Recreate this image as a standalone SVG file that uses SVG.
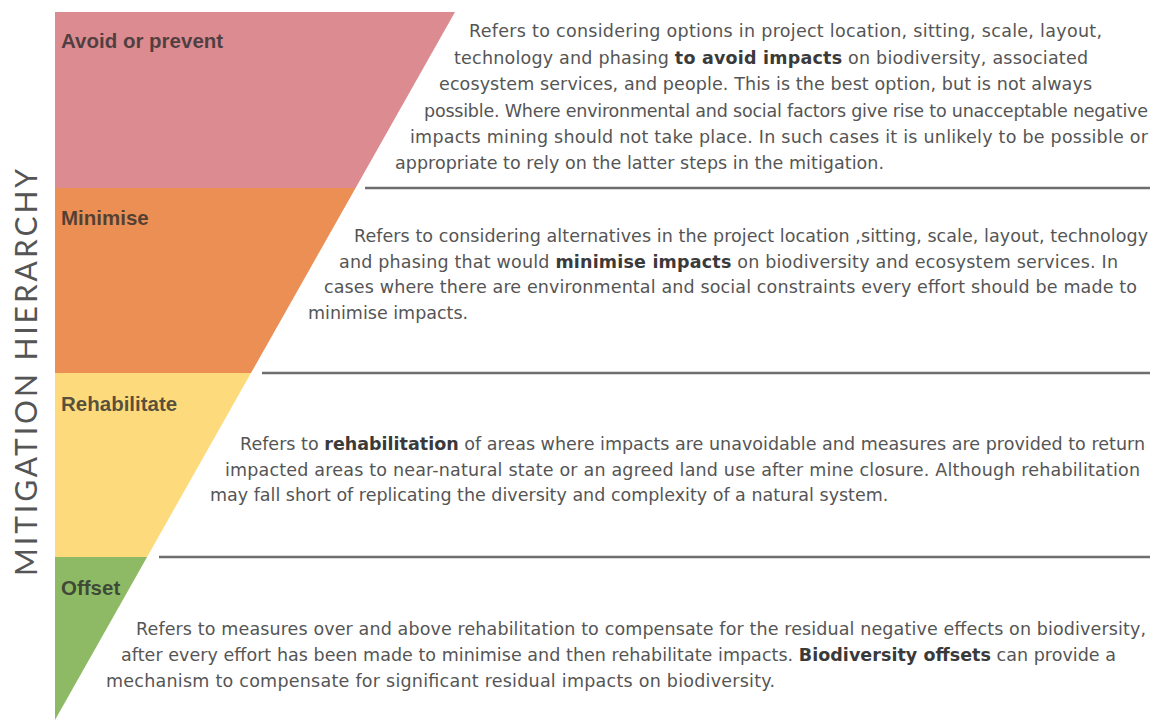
<svg xmlns="http://www.w3.org/2000/svg" width="1156" height="723" viewBox="0 0 1156 723">
<style>
.body{font-family:"DejaVu Sans","Liberation Sans",sans-serif;font-size:17.5px;fill:#555555;}
.b{font-weight:bold;fill:#3a3a3a;}
.lab{font-family:"Liberation Sans",Arial,sans-serif;font-weight:bold;font-size:20.5px;fill:#2a2a2a;fill-opacity:0.78;}
.sep{stroke:#6e6e6e;stroke-width:2.5;fill:none;}
.title{font-family:Lato,"Liberation Sans",sans-serif;font-weight:400;font-size:30px;fill:#555555;}
</style>
<rect width="1156" height="723" fill="#ffffff"/>
<text class="title" transform="translate(37,576) rotate(-90)" textLength="407" lengthAdjust="spacing">MITIGATION HIERARCHY</text>

<g id="avoid">
<polygon points="55,12 455,12 355.6,188 55,188" fill="#DC8B90"/>
<text class="lab" x="61" y="48">Avoid or prevent</text>
<text class="body" x="469" y="37" textLength="633" lengthAdjust="spacing">Refers to considering options in project location, sitting, scale, layout,</text>
<text class="body" x="454" y="63.5" textLength="634" lengthAdjust="spacing">technology and phasing <tspan class="b">to avoid impacts</tspan> on biodiversity, associated</text>
<text class="body" x="439" y="90" textLength="653" lengthAdjust="spacing">ecosystem services, and people. This is the best option, but is not always</text>
<text class="body" x="424" y="116.5" textLength="724" lengthAdjust="spacing">possible. Where environmental and social factors give rise to unacceptable negative</text>
<text class="body" x="410" y="143" textLength="738" lengthAdjust="spacing">impacts mining should not take place. In such cases it is unlikely to be possible or</text>
<text class="body" x="395" y="169" textLength="489" lengthAdjust="spacing">appropriate to rely on the latter steps in the mitigation.</text>
</g>

<g id="minimise">
<polygon points="55,188 355.6,188 251,373 55,373" fill="#EB8F55"/>
<text class="lab" x="61" y="225">Minimise</text>
<text class="body" x="354" y="242" textLength="794" lengthAdjust="spacing">Refers to considering alternatives in the project location ,sitting, scale, layout, technology</text>
<text class="body" x="339" y="267.5" textLength="779" lengthAdjust="spacing">and phasing that would <tspan class="b">minimise impacts</tspan> on biodiversity and ecosystem services. In</text>
<text class="body" x="324" y="293" textLength="813" lengthAdjust="spacing">cases where there are environmental and social constraints every effort should be made to</text>
<text class="body" x="308" y="318.5">minimise impacts.</text>
</g>

<g id="rehabilitate">
<polygon points="55,373 251,373 147.1,557 55,557" fill="#FDDB7C"/>
<text class="lab" x="61" y="411">Rehabilitate</text>
<text class="body" x="240" y="450" textLength="905" lengthAdjust="spacing">Refers to <tspan class="b">rehabilitation</tspan> of areas where impacts are unavoidable and measures are provided to return</text>
<text class="body" x="225" y="476" textLength="915" lengthAdjust="spacing">impacted areas to near-natural state or an agreed land use after mine closure. Although rehabilitation</text>
<text class="body" x="210" y="501">may fall short of replicating the diversity and complexity of a natural system.</text>
</g>

<g id="offset">
<polygon points="55,557 147.1,557 55,720" fill="#8EBA66"/>
<text class="lab" x="61" y="595">Offset</text>
<text class="body" x="136" y="635" textLength="1010" lengthAdjust="spacing">Refers to measures over and above rehabilitation to compensate for the residual negative effects on biodiversity,</text>
<text class="body" x="121" y="661" textLength="995" lengthAdjust="spacing">after every effort has been made to minimise and then rehabilitate impacts. <tspan class="b">Biodiversity offsets</tspan> can provide a</text>
<text class="body" x="106" y="687" textLength="669" lengthAdjust="spacing">mechanism to compensate for significant residual impacts on biodiversity.</text>
</g>

<g id="connectors">
<line class="sep" x1="365" y1="188" x2="1150" y2="188"/>
<line class="sep" x1="262" y1="373" x2="1150" y2="373"/>
<line class="sep" x1="159" y1="557" x2="1150" y2="557"/>
</g>
</svg>
